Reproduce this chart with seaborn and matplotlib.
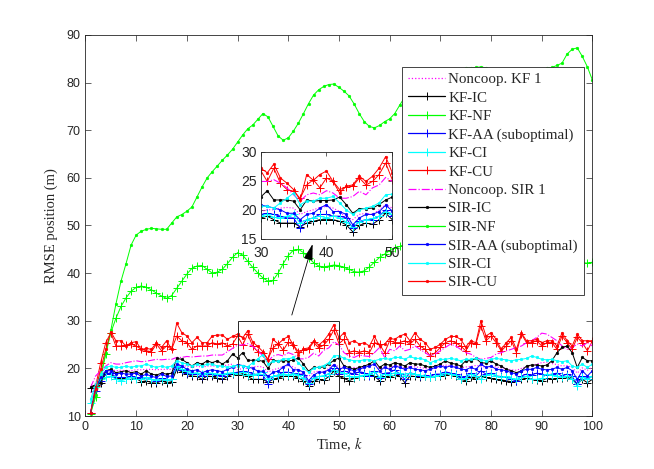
import numpy as np
import pandas as pd
import matplotlib
matplotlib.use("Agg")
import matplotlib.pyplot as plt
import seaborn as sns
from matplotlib.patches import Rectangle

# ---------------- data ----------------
k = list(range(1, 101))

nc_kf = [14.9, 17.0, 18.4, 19.5, 19.8, 19.5, 19.6, 19.5, 19.5, 19.7,
         19.7, 19.8, 19.8, 19.7, 19.8, 19.8, 19.8, 20.9, 20.5, 20.5,
         20.2, 20.5, 20.2, 20.5, 20.5, 20.5, 20.5, 20.7, 20.9, 19.7,
         20.0, 20.0, 20.3, 20.4, 20.3, 19.2, 19.7, 20.0, 20.4, 20.6,
         20.3, 19.7, 18.6, 18.3, 19.2, 19.4, 19.2, 20.0, 20.9, 20.3,
         20.2, 19.8, 20.2, 20.0, 20.4, 20.6, 20.8, 19.9, 20.3, 20.1,
         20.6, 20.4, 20.0, 20.5, 20.3, 20.2, 20.0, 19.8, 20.1, 20.4,
         20.7, 20.6, 20.4, 20.1, 20.3, 20.4, 20.6, 20.5, 20.2, 20.4,
         20.3, 20.1, 19.9, 19.7, 19.6, 20.0, 20.4, 20.6, 20.9, 21.2,
         21.3, 21.0, 20.8, 20.5, 20.6, 20.2, 19.0, 20.1, 19.6, 20.3]

kf_ic = [15.8, 16.5, 17.0, 18.8, 19.0, 17.7, 17.9, 17.7, 17.7, 17.9,
         17.2, 17.4, 17.0, 16.9, 17.4, 17.0, 17.2, 19.8, 19.3, 18.8,
         18.4, 18.3, 17.7, 18.4, 18.3, 17.9, 17.7, 18.3, 18.8, 18.6,
         18.9, 18.3, 17.7, 17.7, 17.7, 17.1, 17.7, 18.0, 18.3, 18.3,
         18.3, 18.0, 17.4, 16.2, 17.3, 17.7, 17.5, 18.3, 19.4, 18.3,
         17.9, 17.4, 17.9, 18.3, 18.4, 18.6, 18.4, 17.4, 18.3, 18.1,
         18.6, 18.3, 17.0, 18.4, 18.3, 18.1, 18.3, 18.1, 18.3, 18.3,
         18.6, 18.8, 18.4, 17.7, 17.4, 18.1, 17.7, 18.4, 18.1, 17.9,
         17.7, 17.6, 17.4, 17.2, 17.4, 17.7, 17.9, 17.7, 17.6, 17.4,
         17.9, 17.7, 17.9, 17.9, 18.1, 17.7, 16.7, 17.7, 17.0, 17.7]

kf_nf = [10.5, 14.0, 18.0, 23.0, 27.5, 30.5, 33.0, 34.8, 36.2, 37.0,
         37.3, 37.0, 36.5, 35.8, 35.2, 34.7, 35.3, 36.8, 38.3, 39.8,
         41.0, 41.5, 41.6, 40.8, 40.0, 40.2, 40.8, 42.0, 43.3, 44.3,
         43.8, 42.5, 41.2, 40.0, 39.0, 38.3, 38.5, 40.0, 42.0, 43.7,
         44.8, 45.0, 44.3, 43.2, 42.2, 41.5, 41.3, 41.5, 41.7, 41.6,
         41.2, 40.8, 40.3, 40.2, 40.5, 41.3, 42.3, 43.3, 44.0, 44.7,
         45.2, 45.6, 46.0, 46.3, 46.5, 46.4, 46.0, 45.5, 45.0, 44.6,
         44.3, 44.2, 44.4, 44.8, 45.2, 45.5, 45.6, 45.4, 45.0, 44.5,
         44.0, 43.6, 43.3, 43.2, 43.4, 43.8, 44.2, 44.5, 44.6, 44.4,
         44.0, 43.6, 43.2, 42.9, 42.6, 42.4, 42.3, 42.2, 42.1, 42.3]

kf_aa = [10.7, 15.3, 17.4, 18.8, 19.1, 18.1, 18.1, 18.1, 18.3, 18.1,
         17.9, 18.1, 17.7, 17.4, 17.9, 17.6, 17.7, 20.2, 19.7, 19.1,
         18.8, 18.8, 18.4, 18.8, 18.8, 18.6, 18.4, 18.8, 19.0, 19.2,
         19.4, 19.2, 18.9, 18.6, 18.6, 16.8, 18.3, 18.6, 19.2, 19.2,
         18.9, 18.9, 18.6, 16.8, 18.0, 18.3, 18.3, 18.9, 20.0, 18.9,
         19.5, 19.1, 18.8, 19.3, 19.1, 18.4, 19.5, 17.9, 19.0, 19.1,
         19.7, 18.8, 17.7, 19.1, 18.8, 18.4, 18.6, 18.3, 18.8, 18.8,
         19.3, 19.0, 18.8, 18.1, 18.3, 19.0, 18.4, 19.5, 18.8, 19.0,
         18.4, 18.3, 18.1, 17.7, 17.4, 18.4, 18.8, 18.6, 19.0, 18.8,
         18.6, 18.8, 19.0, 18.4, 18.8, 18.3, 16.7, 18.3, 17.7, 18.4]

kf_ci = [12.8, 16.0, 17.7, 18.1, 18.4, 17.7, 17.4, 17.7, 18.1, 17.7,
         17.7, 18.1, 17.7, 17.6, 17.7, 17.6, 17.7, 20.5, 19.8, 19.5,
         19.0, 19.1, 18.8, 19.1, 19.0, 18.8, 18.8, 19.0, 19.1, 18.9,
         19.2, 18.7, 18.6, 18.9, 19.2, 17.7, 18.3, 18.6, 18.9, 18.6,
         18.9, 18.6, 17.9, 17.0, 17.9, 18.3, 18.5, 18.9, 19.7, 19.2,
         19.0, 18.4, 18.1, 18.4, 18.6, 18.8, 19.3, 18.1, 18.8, 18.6,
         19.1, 19.0, 18.4, 19.0, 18.8, 18.6, 18.3, 18.1, 18.4, 18.6,
         19.0, 18.8, 18.6, 17.7, 17.9, 18.8, 18.3, 17.7, 18.6, 18.8,
         18.4, 18.1, 18.3, 17.9, 17.7, 18.1, 18.4, 17.7, 17.7, 17.9,
         18.8, 18.6, 18.4, 18.1, 18.4, 17.7, 16.2, 18.1, 17.7, 18.3]

kf_cu = [10.7, 16.3, 21.2, 25.4, 27.5, 24.7, 24.7, 24.9, 25.1, 24.7,
         24.0, 23.7, 23.5, 25.1, 23.7, 24.7, 24.0, 26.8, 25.8, 25.4,
         24.0, 24.7, 24.7, 24.7, 25.4, 25.1, 25.4, 24.7, 25.1, 26.8,
         24.9, 27.2, 24.6, 23.5, 23.2, 22.0, 24.3, 25.2, 23.8, 25.5,
         24.9, 23.5, 23.9, 24.1, 25.5, 24.3, 24.9, 26.1, 28.1, 25.2,
         26.1, 23.3, 23.7, 23.3, 23.7, 23.3, 25.4, 25.1, 23.3, 25.8,
         25.4, 25.4, 25.8, 25.1, 26.1, 24.7, 24.0, 22.6, 23.3, 24.4,
         25.4, 25.8, 25.4, 24.7, 23.7, 25.4, 25.1, 28.9, 25.8, 26.8,
         25.4, 23.7, 24.7, 25.8, 23.3, 27.2, 25.4, 25.4, 25.8, 24.7,
         25.4, 25.4, 24.0, 26.8, 25.4, 24.0, 26.5, 25.4, 23.7, 25.8]

nc_sir = [16.0, 18.4, 19.5, 20.5, 21.2, 20.9, 20.9, 21.2, 21.4, 21.6,
          21.4, 21.5, 21.7, 21.9, 21.8, 21.9, 21.9, 22.3, 22.3, 22.5,
          22.4, 22.5, 22.6, 22.6, 22.8, 22.8, 22.8, 23.5, 24.2, 24.9,
          24.9, 25.2, 24.6, 23.8, 22.6, 21.5, 22.6, 22.9, 22.6, 23.3,
          22.9, 22.0, 22.0, 22.3, 23.2, 22.6, 23.8, 24.3, 25.6, 24.9,
          23.3, 22.6, 22.3, 22.8, 22.6, 22.5, 23.3, 24.4, 22.3, 24.0,
          23.7, 24.7, 23.7, 24.0, 24.7, 24.0, 23.3, 22.6, 23.0, 23.7,
          24.4, 25.1, 24.7, 24.0, 23.3, 23.0, 22.3, 21.9, 22.1, 22.3,
          23.0, 23.3, 23.7, 24.0, 24.4, 24.7, 25.4, 25.8, 26.5, 27.4,
          27.2, 26.5, 25.8, 24.7, 24.0, 24.4, 25.1, 24.7, 25.4, 24.7]

sir_ic = [16.0, 16.5, 17.0, 19.5, 19.8, 19.1, 19.3, 19.5, 19.1, 19.3,
          18.8, 19.5, 18.8, 18.6, 19.0, 18.8, 19.0, 22.1, 21.9, 21.2,
          20.5, 21.2, 20.9, 21.6, 21.2, 21.6, 20.9, 21.6, 23.0, 22.2,
          23.3, 21.7, 21.7, 21.7, 21.5, 20.0, 21.7, 21.5, 21.6, 21.6,
          21.7, 22.2, 20.9, 19.4, 20.2, 20.2, 20.3, 20.9, 21.7, 22.2,
          20.5, 20.2, 19.8, 20.2, 20.5, 20.9, 21.6, 20.2, 20.9, 20.7,
          21.2, 20.9, 20.5, 21.2, 20.9, 20.9, 20.5, 20.2, 20.5, 20.9,
          21.6, 21.1, 20.9, 20.5, 21.6, 21.6, 22.1, 21.2, 21.1, 21.6,
          20.9, 20.5, 19.8, 19.5, 19.1, 19.5, 20.5, 20.7, 20.7, 20.5,
          20.7, 21.6, 23.3, 24.4, 24.7, 23.3, 20.2, 22.3, 21.6, 21.6]

sir_nf = [10.5, 14.5, 18.8, 23.2, 28.0, 33.5, 38.3, 42.0, 45.9, 48.0,
          48.8, 49.2, 49.4, 49.3, 49.2, 49.2, 50.5, 51.8, 52.3, 53.0,
          53.9, 56.0, 58.1, 60.0, 61.3, 62.5, 63.7, 64.8, 66.0, 67.5,
          69.0, 70.3, 71.1, 72.3, 73.5, 72.8, 70.8, 68.8, 67.9, 68.4,
          69.8, 71.5, 73.5, 75.6, 77.4, 78.5, 79.2, 79.6, 79.7, 79.0,
          78.2, 77.2, 75.5, 73.5, 71.8, 70.8, 70.5, 71.0, 71.8, 72.4,
          73.5, 75.3, 77.0, 78.3, 79.3, 80.1, 80.8, 81.4, 81.9, 82.3,
          82.5, 82.7, 82.8, 82.9, 83.0, 83.1, 83.2, 83.3, 83.1, 82.7,
          82.2, 81.6, 81.1, 80.8, 80.9, 81.2, 81.6, 82.0, 82.4, 82.8,
          83.0, 83.2, 83.6, 84.1, 86.0, 87.0, 87.3, 85.5, 83.3, 80.5]

sir_aa = [10.7, 15.6, 18.1, 19.5, 19.5, 18.8, 19.0, 18.8, 18.8, 19.0,
          18.3, 18.8, 18.3, 18.1, 18.8, 18.3, 18.4, 20.9, 20.5, 19.8,
          19.5, 19.7, 19.1, 19.5, 19.7, 19.5, 19.3, 19.8, 20.2, 20.8,
          20.6, 20.3, 20.0, 19.4, 19.4, 18.3, 19.2, 19.4, 20.3, 20.9,
          19.7, 19.7, 19.2, 17.4, 18.6, 19.2, 19.2, 19.7, 20.8, 19.8,
          20.2, 19.8, 19.5, 19.8, 20.2, 20.5, 20.9, 19.5, 20.2, 19.8,
          20.5, 20.2, 19.8, 20.2, 19.8, 19.7, 19.5, 19.8, 20.2, 20.5,
          20.2, 20.5, 20.2, 19.9, 19.7, 20.2, 19.8, 20.9, 20.2, 20.5,
          19.8, 19.7, 19.5, 19.1, 18.8, 19.5, 19.8, 19.8, 20.2, 19.8,
          19.7, 19.8, 20.2, 19.8, 20.2, 19.5, 17.7, 19.5, 18.4, 19.5]

sir_ci = [13.5, 16.7, 18.8, 20.2, 20.5, 20.2, 20.2, 20.5, 20.2, 20.5,
          20.5, 20.9, 20.5, 20.2, 20.5, 20.2, 20.5, 21.6, 21.2, 20.9,
          20.5, 20.9, 20.5, 20.9, 20.9, 20.5, 20.5, 20.2, 20.5, 20.6,
          20.6, 20.3, 21.2, 22.0, 22.9, 20.9, 21.5, 21.5, 22.0, 22.0,
          22.3, 21.2, 20.0, 19.2, 20.0, 20.3, 20.6, 21.2, 22.6, 22.7,
          22.1, 21.8, 21.6, 21.6, 21.8, 21.8, 21.6, 21.9, 22.1, 21.9,
          22.3, 22.3, 21.9, 22.5, 22.1, 22.1, 21.8, 21.2, 21.6, 21.9,
          21.9, 22.1, 21.9, 21.6, 21.9, 21.9, 22.1, 21.8, 21.6, 21.9,
          22.1, 21.9, 21.8, 21.6, 21.8, 21.9, 22.1, 22.6, 22.3, 21.9,
          21.8, 21.9, 21.6, 21.4, 21.6, 20.5, 20.2, 20.9, 20.2, 20.9]

sir_cu = [10.7, 15.6, 19.8, 24.0, 27.7, 25.8, 25.8, 24.7, 25.4, 25.6,
          24.0, 24.2, 24.0, 25.4, 24.4, 25.8, 24.0, 29.5, 27.5, 26.8,
          25.4, 26.5, 25.4, 25.4, 26.8, 27.0, 27.0, 26.1, 26.7, 27.2,
          26.4, 27.9, 25.5, 24.6, 23.5, 21.7, 26.1, 25.1, 26.1, 26.7,
          24.9, 22.9, 24.1, 24.3, 25.8, 24.9, 25.8, 27.2, 29.2, 26.4,
          27.5, 25.4, 25.8, 25.1, 25.4, 24.7, 26.7, 24.7, 25.1, 26.3,
          26.1, 26.8, 27.2, 25.8, 27.5, 26.1, 25.4, 24.0, 24.4, 25.1,
          26.1, 26.7, 26.7, 26.1, 24.5, 25.8, 25.4, 30.0, 26.8, 27.5,
          26.1, 24.0, 25.4, 26.5, 24.0, 27.4, 25.8, 25.8, 26.1, 25.4,
          25.8, 25.8, 24.7, 27.5, 25.8, 24.7, 27.2, 25.8, 25.8, 25.8]

labels = ["Noncoop. KF 1", "KF-IC", "KF-NF", "KF-AA (suboptimal)", "KF-CI", "KF-CU",
          "Noncoop. SIR 1", "SIR-IC", "SIR-NF", "SIR-AA (suboptimal)", "SIR-CI", "SIR-CU"]
series = [nc_kf, kf_ic, kf_nf, kf_aa, kf_ci, kf_cu,
          nc_sir, sir_ic, sir_nf, sir_aa, sir_ci, sir_cu]

x_ticks = [0, 10, 20, 30, 40, 50, 60, 70, 80, 90, 100]
y_ticks = [10, 20, 30, 40, 50, 60, 70, 80, 90]
inset_x_ticks = [30, 40, 50]
inset_y_ticks = [15, 20, 25, 30]

# ---------------- styles ----------------
colors = ["#ff00ff", "#000000", "#00ff00", "#0000ff", "#00ffff", "#ff0000",
          "#ff00ff", "#000000", "#00ff00", "#0000ff", "#00ffff", "#ff0000"]
lstyles = [":", "-", "-", "-", "-", "-", "-.", "-", "-", "-", "-", "-"]
markers = ["None", "+", "+", "+", "+", "+", "None", ".", ".", ".", ".", "."]

sns.set_style("ticks")
plt.rcParams["font.family"] = ["Liberation Sans", "DejaVu Sans"]
plt.rcParams["mathtext.fontset"] = "stix"

fig = plt.figure(figsize=(6.54, 4.69), dpi=100)
ax = fig.add_axes([0.1307, 0.113, 0.7752, 0.8124])


def draw(axis):
    lines = []
    for vals, lab, c, ls, m in zip(series, labels, colors, lstyles, markers):
        sns.lineplot(x=k, y=vals, ax=axis, color=c, legend=False)
        ln = axis.lines[-1]
        ln.set_label(lab)
        ln.set_color(c)
        ln.set_linestyle(ls)
        ln.set_linewidth(0.8 if m == "None" else 0.7)
        ln.set_marker(m)
        if m == "+":
            ln.set_markersize(5.5)
            ln.set_markeredgewidth(0.7)
        elif m == ".":
            ln.set_markersize(4)
            ln.set_markeredgewidth(0.3)
        ln.set_markeredgecolor(c)
        ln.set_markerfacecolor(c)
        lines.append(ln)
    return lines


main_lines = draw(ax)

ax.set_xlim(0, 100)
ax.set_ylim(10, 90)
ax.set_xticks(x_ticks)
ax.set_yticks(y_ticks)
ax.tick_params(direction="in", top=True, right=True, labelsize=9, length=4,
               width=0.5, colors="#262626")
for s in ax.spines.values():
    s.set_linewidth(0.6)
    s.set_color("#262626")
ax.set_xlabel("Time, $k$", family="Liberation Serif", fontsize=10.5, labelpad=2)
ax.set_ylabel("RMSE position (m)", family="Liberation Serif", fontsize=10.5, labelpad=6)

# zoom rectangle and arrow
ax.add_patch(Rectangle((30, 15), 20, 15, fill=False, edgecolor="#262626",
                       linewidth=0.7, zorder=5))
ax.annotate("", xy=(44.8, 46.1), xytext=(40.7, 31.2),
            arrowprops=dict(arrowstyle="-|>,head_length=1.0,head_width=0.28",
                            color="black", lw=0.6, shrinkA=0, shrinkB=0),
            zorder=6)

leg = ax.legend(main_lines, labels, loc="upper left", bbox_to_anchor=(0.624, 0.917),
                borderaxespad=0, frameon=True, fancybox=False, framealpha=1,
                edgecolor="#262626", prop={"family": "Liberation Serif", "size": 10.8},
                handlelength=2.5, labelspacing=0.33, borderpad=0.4,
                handletextpad=0.2)
leg.get_frame().set_linewidth(0.6)
leg.set_zorder(10)
for lh, c in zip(leg.get_lines(), colors):
    lh.set_color(c)
    lh.set_markeredgecolor(c)
    lh.set_markerfacecolor(c)
    lh.set_linewidth(0.9)

# inset
axi = fig.add_axes([0.3986, 0.491, 0.2012, 0.185])
draw(axi)
axi.set_xlim(30, 50)
axi.set_ylim(15, 30)
axi.set_xticks(inset_x_ticks)
axi.set_yticks(inset_y_ticks)
axi.set_xlabel("")
axi.set_ylabel("")
axi.tick_params(direction="in", top=True, right=True, labelsize=10, length=3,
                width=0.5, colors="#262626")
axi.tick_params(axis="x", pad=5)
axi.tick_params(axis="y", pad=3)
for s in axi.spines.values():
    s.set_linewidth(0.6)
    s.set_color("#262626")

fig.savefig("out.png", dpi=100)
